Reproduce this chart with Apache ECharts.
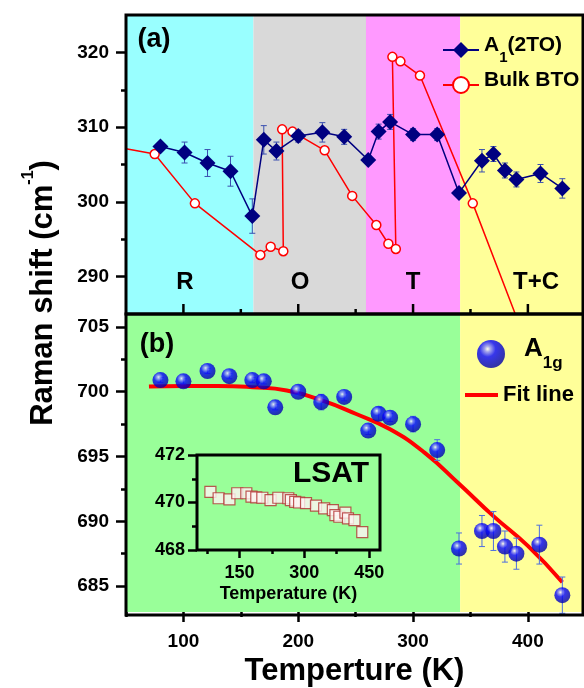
<!DOCTYPE html>
<html><head><meta charset="utf-8">
<script src="https://cdn.jsdelivr.net/npm/echarts@6/dist/echarts.min.js"></script>
<style>html,body{margin:0;padding:0;background:#fff}#c{width:584px;height:688px}</style>
</head><body><div id="c"></div><script>
// ---------- data ----------
// panel (a): A1(2TO) mode of film
const a1Temp = [80,101,121,141,160,170,181,200,221,240,261,270,280,300,321,340,360,370,380,390,411,430];
const a1Val  = [307.4,306.6,305.2,304.1,298.1,308.3,306.8,308.8,309.3,308.7,305.6,309.4,310.7,309.0,309.0,301.2,305.5,306.4,304.2,303.0,303.8,301.8];
const a1Err  = [0.5,1.4,1.8,2.0,2.3,1.9,1.2,0.8,1.3,1.0,0.6,1.0,1.0,0.8,0.8,0.6,1.5,1.0,1.0,1.0,1.2,1.3];
// panel (a): bulk BTO (first/last entries are where the line enters/leaves the frame)
const btoTemp = [50,75,110,167,176,187,186,195,223,247,268,278.5,285,282,289,306,352,390];
const btoVal  = [307.1,306.4,299.8,292.9,294.0,293.4,309.7,309.4,306.9,300.8,296.9,294.4,293.7,319.4,318.8,316.9,299.8,284.6];
// phases
const phaseEdges = [50,161,259,341,448];
const phaseNames = ['R','O','T','T+C'];
// panel (b): A1g
const a1gTemp = [80,100,121,140,160,170,180,200,220,240,261,270,280,300,321,340,360,370,380,390,410,430];
const a1gVal  = [700.9,700.8,701.6,701.2,700.9,700.8,698.8,700.0,699.2,699.6,697.0,698.3,698.0,697.5,695.5,687.9,689.25,689.25,688.05,687.5,688.2,684.3];
const a1gErr  = [0.2,0.2,0.2,0.2,0.2,0.2,0.2,0.2,0.6,0.3,0.3,0.5,0.3,0.6,0.8,1.2,1.2,1.5,1.2,1.2,1.5,1.4];
// panel (b): fit line
const fitTemp = [70,100,130,160,190,220,250,280,310,340,370,400,430];
const fitVal  = [700.4,700.45,700.45,700.35,700.1,699.35,698.3,697.1,695.3,692.9,690.4,688.1,685.3];
// inset: LSAT
const lsatTemp = [83,102,127,145,166,178,189,203,222,240,263,269,279,288,304,327,346,366,372,381,395,401,416,434];
const lsatVal  = [470.45,470.18,470.13,470.39,470.39,470.25,470.22,470.2,470.1,470.2,470.18,470.1,470.03,470.0,469.97,469.87,469.75,469.68,469.47,469.4,469.57,469.33,469.26,468.75];
// ticks
const xMajor = [100,200,300,400], xMinor = [50,150,250,350], xMinorTop = [150,250,350];
const yAMajor = [290,300,310,320], yAMinor = [295,305,315];
const yBMajor = [685,690,695,700,705], yBMinor = [687.5,692.5,697.5,702.5];
const inXMajor = [150,300,450], inXMinor = [75,225,375];
const inYMajor = [468,470,472], inYMinor = [469,471];

// ---------- style / layout ----------
const FONT = '"Liberation Sans", Arial, sans-serif';
const phaseColorsA = ['#99ffff','#d9d9d9','#ff99ff','#ffff99'];
const GA = {left:126, top:15, width:457, height:299};
const GB = {left:126, top:314, width:457, height:301};
const GI = {left:197, top:455, width:183, height:95};
const yAMin = 285, yAMax = 325;

const zip = (a,b) => a.map((v,i)=>[v,b[i]]);
const zip3 = (a,b,c) => a.map((v,i)=>[v,b[i],c[i]]);

function errRender(color, cap){
  return function(params, api){
    const x=api.value(0), y=api.value(1), e=api.value(2);
    const hi=api.coord([x,y+e]), lo=api.coord([x,y-e]);
    const st={stroke:color,lineWidth:1};
    return {type:'group',children:[
      {type:'line',shape:{x1:hi[0],y1:hi[1],x2:lo[0],y2:lo[1]},style:st},
      {type:'line',shape:{x1:hi[0]-cap,y1:hi[1],x2:hi[0]+cap,y2:hi[1]},style:st},
      {type:'line',shape:{x1:lo[0]-cap,y1:lo[1],x2:lo[0]+cap,y2:lo[1]},style:st}
    ]};
  };
}

const lab = (size, margin, vals) => ({show:true, customValues: vals, fontFamily:FONT, fontWeight:'bold', fontSize:size, color:'#000', margin});
function xAx(grid, min, max, vals, len, pos, labels, lsize, lmargin, extra){
  return Object.assign({type:'value', gridIndex:grid, min, max, position:pos, offset:0, z:20,
    axisLine:{show:false}, splitLine:{show:false},
    axisTick:{show: vals.length>0, inside:false, customValues:vals, length:len, lineStyle:{color:'#000', width:2.5}},
    axisLabel: labels ? lab(lsize, lmargin, vals) : {show:false}}, extra||{});
}
function yAx(grid, min, max, vals, len, labels, lsize, lmargin){
  return {type:'value', gridIndex:grid, min, max, position:'left', offset:0, z:20,
    axisLine:{show:false}, splitLine:{show:false},
    axisTick:{show:true, inside:false, customValues:vals, length:len, lineStyle:{color:'#000', width:2.5}},
    axisLabel: labels ? lab(lsize, lmargin, vals) : {show:false}};
}

const sphere = new echarts.graphic.RadialGradient(0.38,0.32,0.75,[
  {offset:0,color:'#ffffff'},{offset:0.14,color:'#8c8cff'},{offset:0.38,color:'#0505ff'},{offset:1,color:'#00009a'}]);

const bandData = phaseColorsA.map((c,i)=>[{xAxis:phaseEdges[i], itemStyle:{color:c}},{xAxis:phaseEdges[i+1]}]);
const bandDataB = [[{xAxis:phaseEdges[0], itemStyle:{color:'#99ff99'}},{xAxis:phaseEdges[3]}],
                   [{xAxis:phaseEdges[3], itemStyle:{color:'#ffff99'}},{xAxis:phaseEdges[4]}]];

const chart = echarts.init(document.getElementById('c'), null, {renderer:'canvas'});
const frameStyle = {fill:null, stroke:'#000', lineWidth:3};
const txt = (x,y,text,size,extra) => Object.assign({type:'text', x, y, z:100,
  style:{text, font:`bold ${size}px ${FONT}`, fill:'#000', align:'center', verticalAlign:'middle'}}, extra||{});

const baseGraphics = [
  {type:'rect', z:100, shape:{x:GA.left,y:GA.top,width:GA.width,height:GA.height}, style:frameStyle, silent:true},
  {type:'rect', z:100, shape:{x:GB.left,y:GB.top,width:GB.width,height:GB.height}, style:frameStyle, silent:true},
  {type:'rect', z:100, shape:{x:GI.left,y:GI.top,width:GI.width,height:GI.height}, style:frameStyle, silent:true},
  txt(154,40,'(a)',27),
  txt(157,345,'(b)',27),
  txt(185,282,phaseNames[0],24),
  txt(300,282,phaseNames[1],24),
  txt(413,282,phaseNames[2],24),
  txt(536,282,phaseNames[3],24),
  txt(331,474,'LSAT',30),
  {type:'text', x:40, y:293, rotation:Math.PI/2, z:100,
   style:{text:'{n|Raman shift (cm}{s|-1}{n|)}', align:'center', verticalAlign:'middle',
     rich:{n:{font:`bold 31px ${FONT}`, fill:'#000', lineHeight:38, verticalAlign:'bottom'},
           s:{font:`bold 16px ${FONT}`, fill:'#000', verticalAlign:'top'}}}}
];

chart.setOption({
  animation:false,
  backgroundColor:'#fff',
  grid:[GA,GB,GI].map(g=>Object.assign({containLabel:false, show:false}, g)),
  xAxis:[
    xAx(0,50,448,[],0,'bottom',false),
    xAx(1,50,448,xMajor,10,'bottom',true,19,20,{name:'Temperture (K)', nameLocation:'middle', nameGap:44,
       nameTextStyle:{fontFamily:FONT,fontWeight:'bold',fontSize:31,color:'#000'}}),
    xAx(1,50,448,xMinor,5,'bottom',false),
    xAx(2,52,475,inXMajor,8,'bottom',true,18,14,{name:'Temperature (K)', nameLocation:'middle', nameGap:35,
       nameTextStyle:{fontFamily:FONT,fontWeight:'bold',fontSize:18,color:'#000'}}),
    xAx(2,52,475,inXMinor,4,'bottom',false)
  ],
  yAxis:[
    yAx(0,yAMin,yAMax,yAMajor,10,true,19,17),
    yAx(0,yAMin,yAMax,yAMinor,5,false),
    yAx(1,683,706,yBMajor,10,true,19,17),
    yAx(1,683,706,yBMinor,5,false),
    yAx(2,468,472,inYMajor,9,true,18,12),
    yAx(2,468,472,inYMinor,5,false)
  ],
  legend:[
    {data:['A1(2TO)','Bulk BTO'], orient:'vertical', left:437, top:30, itemWidth:36, itemHeight:20, itemGap:5,
     selectedMode:false, z:50,
     formatter:n=> n==='A1(2TO)' ? '{n|A}{s|1}{n|(2TO)}' : '{n|Bulk BTO}',
     textStyle:{fontFamily:FONT, rich:{
       n:{fontFamily:FONT,fontWeight:'bold',fontSize:21,color:'#000',lineHeight:30,verticalAlign:'top'},
       s:{fontFamily:FONT,fontWeight:'bold',fontSize:15,color:'#000',verticalAlign:'bottom'}}}},
    {data:['A1g'], orient:'vertical', left:472, top:331, itemWidth:28, itemHeight:28, selectedMode:false, z:50,
     formatter:()=> '{n|A}{s|1g}',
     textStyle:{fontFamily:FONT, rich:{
       n:{fontFamily:FONT,fontWeight:'bold',fontSize:26,color:'#000',lineHeight:36,verticalAlign:'top',padding:[0,0,0,14]},
       s:{fontFamily:FONT,fontWeight:'bold',fontSize:17,color:'#000',verticalAlign:'bottom'}}}},
    {data:[{name:'Fit line', icon:'rect', itemStyle:{color:'#ff0000'}}], orient:'vertical', left:460, top:379,
     itemWidth:33, itemHeight:4, selectedMode:false, z:50,
     textStyle:{fontFamily:FONT,fontWeight:'bold',fontSize:22,color:'#000'}}
  ],
  series:[
    // bands
    {type:'line', xAxisIndex:0, yAxisIndex:0, data:[], z:0, silent:true,
     markArea:{silent:true, data:bandData, itemStyle:{opacity:1}}},
    {type:'line', xAxisIndex:1, yAxisIndex:2, data:[], z:0, silent:true,
     markArea:{silent:true, data:bandDataB, itemStyle:{opacity:1}}},
    // bulk BTO
    {name:'Bulk BTO', type:'line', xAxisIndex:0, yAxisIndex:0, z:3, clip:true,
     data: btoTemp.map((t,i)=>({value:[t,btoVal[i]], symbol:(i===0||i===btoTemp.length-1)?'none':'circle'})),
     symbol:'circle', symbolSize:9, showAllSymbol:true,
     lineStyle:{color:'#ff0000', width:1.5}, itemStyle:{color:'#ffffff', borderColor:'#ff0000', borderWidth:1.5}},
    // A1 errors
    {type:'custom', xAxisIndex:0, yAxisIndex:0, z:4, silent:true, renderItem:errRender('#3a4fb0',3),
     data:zip3(a1Temp,a1Val,a1Err), encode:{x:0,y:1}},
    {name:'A1(2TO)', type:'line', xAxisIndex:0, yAxisIndex:0, z:5,
     data:zip(a1Temp,a1Val), symbol:'diamond', symbolSize:16, showAllSymbol:true,
     lineStyle:{color:'#000080', width:1.5}, itemStyle:{color:'#000080'}},
    // fit line
    {name:'Fit line', type:'line', xAxisIndex:1, yAxisIndex:2, z:3, smooth:true, showSymbol:false, symbol:'none',
     data:zip(fitTemp,fitVal), lineStyle:{color:'#ff0000', width:4}, itemStyle:{color:'#ff0000'}},
    // A1g errors
    {type:'custom', xAxisIndex:1, yAxisIndex:2, z:4, silent:true, renderItem:errRender('#4d6ee0',3),
     data:zip3(a1gTemp,a1gVal,a1gErr), encode:{x:0,y:1}},
    {name:'A1g', type:'scatter', xAxisIndex:1, yAxisIndex:2, z:5,
     data:zip(a1gTemp,a1gVal), symbol:'circle', symbolSize:16,
     itemStyle:{color:sphere}},
    // inset LSAT
    {name:'LSAT', type:'scatter', xAxisIndex:3, yAxisIndex:4, z:6,
     data:zip(lsatTemp,lsatVal), symbol:'rect', symbolSize:11,
     itemStyle:{color:'#fff4f4', borderColor:'#b03030', borderWidth:1.2}}
  ],
  graphic: baseGraphics
});

// inward ticks along the bottom edge of panel (a), positioned through the axis scale
const tickLines = [];
const yBase = chart.convertToPixel({yAxisIndex:0}, yAMin);
xMajor.forEach(v => { const x = chart.convertToPixel({xAxisIndex:0}, v);
  tickLines.push({type:'line', z:110, silent:true, shape:{x1:x,y1:yBase,x2:x,y2:yBase-10}, style:{stroke:'#000', lineWidth:2.5}}); });
xMinorTop.forEach(v => { const x = chart.convertToPixel({xAxisIndex:0}, v);
  tickLines.push({type:'line', z:110, silent:true, shape:{x1:x,y1:yBase,x2:x,y2:yBase-5}, style:{stroke:'#000', lineWidth:2.5}}); });
chart.setOption({graphic: baseGraphics.concat(tickLines)});
</script></body></html>
